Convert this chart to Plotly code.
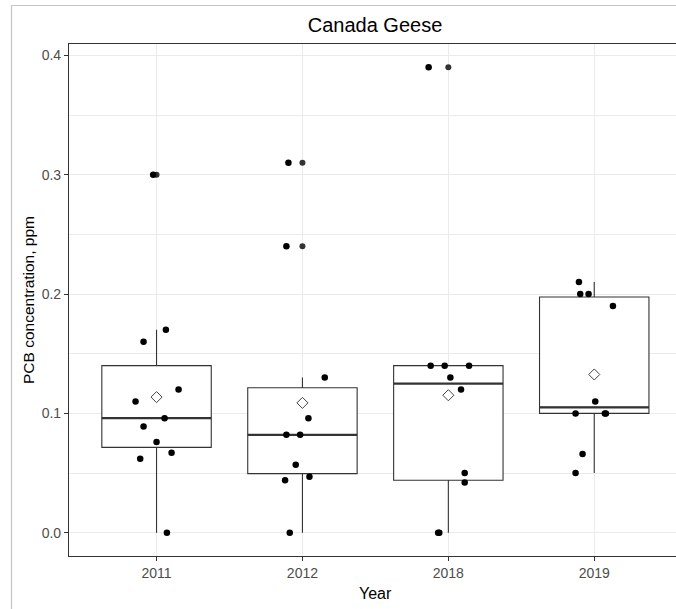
import numpy as np
import plotly.graph_objects as go

# ---------------- data ----------------
years = ["2011", "2012", "2018", "2019"]

pcb_2011 = [0.30, 0.17, 0.16, 0.12, 0.11, 0.096, 0.089, 0.076, 0.067, 0.062, 0.0]
pcb_2012 = [0.31, 0.24, 0.13, 0.096, 0.082, 0.082, 0.057, 0.047, 0.044, 0.0]
pcb_2018 = [0.39, 0.14, 0.14, 0.14, 0.13, 0.12, 0.05, 0.042, 0.0, 0.0]
pcb_2019 = [0.21, 0.20, 0.20, 0.19, 0.11, 0.10, 0.10, 0.10, 0.066, 0.05]

# horizontal jitter of each point (in category units)
jitter_2011 = [-0.023, 0.064, -0.089, 0.151, -0.144, 0.055, -0.089, 0.0, 0.103, -0.112, 0.071]
jitter_2012 = [-0.096, -0.110, 0.153, 0.041, -0.110, -0.016, -0.046, 0.048, -0.119, -0.087]
jitter_2018 = [-0.135, -0.121, -0.025, 0.142, 0.014, 0.087, 0.112, 0.112, -0.070, -0.062]
jitter_2019 = [-0.105, -0.096, -0.039, 0.128, 0.007, -0.128, 0.073, 0.080, -0.080, -0.128]

values = [pcb_2011, pcb_2012, pcb_2018, pcb_2019]
jitters = [jitter_2011, jitter_2012, jitter_2018, jitter_2019]

title_text = "Canada Geese"
x_title = "Year"
y_title = "PCB concentration, ppm"
y_ticks = [0.0, 0.1, 0.2, 0.3, 0.4]

# ---------------- box statistics (R type-7 quantiles, 1.5 IQR whiskers) ----------------
def box_stats(v):
    a = np.asarray(v, dtype=float)
    q1, med, q3 = np.percentile(a, [25, 50, 75])
    iqr = q3 - q1
    lo_lim, hi_lim = q1 - 1.5 * iqr, q3 + 1.5 * iqr
    inside = a[(a >= lo_lim) & (a <= hi_lim)]
    lower, upper = inside.min(), inside.max()
    outliers = a[(a < lo_lim) | (a > hi_lim)]
    return q1, med, q3, lower, upper, outliers

stats = [box_stats(v) for v in values]

# ---------------- layout geometry ----------------
W, H = 676, 609
ML, MR, MT, MB = 69, 0, 44, 53
PW, PH = W - ML - MR, H - MT - MB
BOX_W = 0.75
CAT_PX = 145.9
x_range = [-0.6, -0.6 + PW / CAT_PX]
ymax = max(max(v) for v in values)
pad = 0.05 * ymax
y_range = [-pad, ymax + pad]

FONT = "Arial, Liberation Sans, Helvetica, sans-serif"
DARK = "#333333"
GRID = "#ebebeb"

fig = go.Figure()

xs = list(range(len(values)))

# boxes
fig.add_trace(go.Box(
    x=xs,
    q1=[s[0] for s in stats], median=[s[1] for s in stats], q3=[s[2] for s in stats],
    lowerfence=[s[3] for s in stats], upperfence=[s[4] for s in stats],
    width=BOX_W, boxpoints=False, whiskerwidth=0, fillcolor="white",
    line=dict(color=DARK, width=1.1),
    hoverinfo="skip", showlegend=False,
))

# thicker median lines
for i, s in enumerate(stats):
    fig.add_trace(go.Scatter(
        x=[i - BOX_W / 2, i + BOX_W / 2], y=[s[1], s[1]], mode="lines",
        line=dict(color=DARK, width=2.3), hoverinfo="skip", showlegend=False,
    ))

# outliers drawn by the boxplot (at the box centre, box colour)
out_x, out_y = [], []
for i, s in enumerate(stats):
    for o in s[5]:
        out_x.append(i)
        out_y.append(float(o))
fig.add_trace(go.Scatter(
    x=out_x, y=out_y, mode="markers",
    marker=dict(color=DARK, size=6, line=dict(width=0)),
    hoverinfo="skip", showlegend=False,
))

# jittered points
for i, (v, j) in enumerate(zip(values, jitters)):
    fig.add_trace(go.Scatter(
        x=[i + d for d in j], y=v, mode="markers",
        marker=dict(color="black", size=6.5, line=dict(width=0)),
        hoverinfo="skip", showlegend=False,
    ))

# means
fig.add_trace(go.Scatter(
    x=xs, y=[float(np.mean(v)) for v in values],
    mode="markers",
    marker=dict(symbol="diamond", size=8.5, color="white",
                line=dict(color="#444444", width=1)),
    hoverinfo="skip", showlegend=False,
))

def px_x(px):
    return (px - ML) / PW

def px_y(py):
    return (H - MB - py) / PH

# outer light-grey frame
frame_col = "#c4c4c4"
fig.add_shape(type="line", xref="paper", yref="paper",
              x0=px_x(11.5), x1=px_x(11.5), y0=px_y(609), y1=px_y(5.5),
              line=dict(color=frame_col, width=1.2))
fig.add_shape(type="line", xref="paper", yref="paper",
              x0=px_x(11.5), x1=px_x(676), y0=px_y(5.5), y1=px_y(5.5),
              line=dict(color=frame_col, width=1.2))

# axis titles
fig.add_annotation(text=x_title, xref="paper", yref="paper",
                   x=px_x(375.5), y=px_y(593), xanchor="center", yanchor="middle",
                   showarrow=False, font=dict(family=FONT, size=16, color="black"))
fig.add_annotation(text=y_title, xref="paper", yref="paper",
                   x=px_x(28), y=px_y(300), xanchor="center", yanchor="middle",
                   textangle=-90, showarrow=False,
                   font=dict(family=FONT, size=15.5, color="black"))

fig.update_layout(
    width=W, height=H,
    margin=dict(l=ML, r=MR, t=MT, b=MB, pad=0),
    paper_bgcolor="white", plot_bgcolor="white",
    boxmode="overlay",
    title=dict(text=title_text, xref="container", yref="container",
               x=375 / W, y=1 - 25 / H, xanchor="center", yanchor="middle",
               font=dict(family=FONT, size=20, color="black")),
    font=dict(family=FONT),
    xaxis=dict(
        range=x_range, tickmode="array", tickvals=xs,
        ticktext=years, showgrid=True, gridcolor=GRID, gridwidth=1.1,
        zeroline=False, showline=True, mirror=True, linecolor=DARK, linewidth=1.1,
        ticks="outside", ticklen=4, tickcolor=DARK, tickwidth=1.1,
        tickfont=dict(family=FONT, size=14, color="#4d4d4d"),
    ),
    yaxis=dict(
        range=y_range, tickmode="array", tickvals=y_ticks,
        ticktext=[f"{t:.1f}" for t in y_ticks],
        showgrid=True, gridcolor=GRID, gridwidth=1.1,
        minor=dict(tickmode="array", tickvals=[0.05, 0.15, 0.25, 0.35],
                   showgrid=True, gridcolor=GRID, gridwidth=0.6, ticks=""),
        zeroline=False, showline=True, mirror=False, linecolor=DARK, linewidth=1.1,
        ticks="outside", ticklen=4, tickcolor=DARK, tickwidth=1.1,
        tickfont=dict(family=FONT, size=14, color="#4d4d4d"),
    ),
)

fig.write_html("out.html", config={"displayModeBar": False})
